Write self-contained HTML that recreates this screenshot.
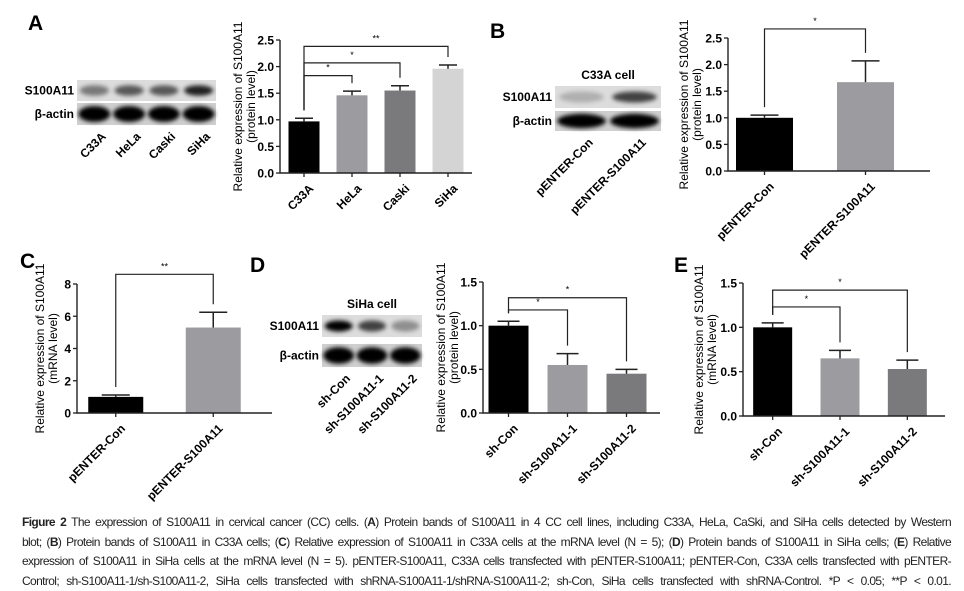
<!DOCTYPE html>
<html><head><meta charset="utf-8"><style>
html,body{margin:0;padding:0;background:#fff;width:964px;height:590px;overflow:hidden}
svg{display:block;font-family:"Liberation Sans",Arial,sans-serif}
.cap{position:absolute;left:22px;top:513px;width:929px;font-family:"Liberation Sans",sans-serif;font-size:12px;line-height:19.6px;letter-spacing:-0.62px;color:#222}
.cap div{text-align:justify;text-align-last:justify;white-space:nowrap;overflow:visible}
</style></head><body>
<svg id="fig" width="964" height="510" viewBox="0 0 964 510">
<defs><filter id="bl" x="-20%" y="-50%" width="140%" height="200%"><feGaussianBlur stdDeviation="2.2"/></filter></defs>
<g font-weight="bold" font-size="21" fill="#000">
<text x="28" y="30">A</text>
<text x="490" y="38">B</text>
<text x="20" y="268">C</text>
<text x="250" y="272">D</text>
<text x="674" y="272">E</text>
</g>
<g id="blots"></g>
<g id="charts"></g>
</svg>
<div class="cap">
<div><b>Figure 2</b> The expression of S100A11 in cervical cancer (CC) cells. (<b>A</b>) Protein bands of S100A11 in 4 CC cell lines, including C33A, HeLa, CaSki, and SiHa cells detected by Western</div>
<div>blot; (<b>B</b>) Protein bands of S100A11 in C33A cells; (<b>C</b>) Relative expression of S100A11 in C33A cells at the mRNA level (N = 5); (<b>D</b>) Protein bands of S100A11 in SiHa cells; (<b>E</b>) Relative</div>
<div>expression of S100A11 in SiHa cells at the mRNA level (N = 5). pENTER-S100A11, C33A cells transfected with pENTER-S100A11; pENTER-Con, C33A cells transfected with pENTER-</div>
<div>Control; sh-S100A11-1/sh-S100A11-2, SiHa cells transfected with shRNA-S100A11-1/shRNA-S100A11-2; sh-Con, SiHa cells transfected with shRNA-Control. *P &lt; 0.05; **P &lt; 0.01.</div>
</div>
<script>
// Panel A data
const catsA = ["C33A","HeLa","Caski","SiHa"];
const valsA = [0.97,1.46,1.55,1.96];
const errA = [0.06,0.08,0.09,0.07];
const ticksA = [0,0.5,1.0,1.5,2.0,2.5];
// Panel B data
const catsB = ["pENTER-Con","pENTER-S100A11"];
const valsB = [1.0,1.67];
const errB = [0.05,0.40];
const ticksB = [0,0.5,1.0,1.5,2.0,2.5];
// Panel C data
const catsC = ["pENTER-Con","pENTER-S100A11"];
const valsC = [1.0,5.3];
const errC = [0.12,0.95];
const ticksC = [0,2,4,6,8];
// Panel D data
const catsD = ["sh-Con","sh-S100A11-1","sh-S100A11-2"];
const valsD = [1.0,0.55,0.45];
const errD = [0.05,0.13,0.05];
const ticksD = [0,0.5,1.0,1.5];
// Panel E data
const catsE = ["sh-Con","sh-S100A11-1","sh-S100A11-2"];
const valsE = [1.0,0.65,0.53];
const errE = [0.05,0.09,0.10];
const ticksE = [0,0.5,1.0,1.5];

const NS="http://www.w3.org/2000/svg";
function mk(parent,tag,attrs,text){const e=document.createElementNS(NS,tag);for(const k in attrs)e.setAttribute(k,attrs[k]);if(text!==undefined)e.textContent=text;parent.appendChild(e);return e;}
const charts=document.getElementById('charts');

function chart(p){
  const g=mk(charts,'g',{});
  
  
  const ys=v=>p.y0-(v-p.tmin)/(p.tmax-p.tmin)*(p.y0-p.y1);
  const step=(p.xEnd-p.ax)/p.cats.length;
  const xc=i=>p.ax+step*(i+0.5)+p.shift;
  p.cats.forEach((c,i)=>{
    const top=ys(p.vals[i]);
    const b=mk(g,'rect',{x:xc(i)-p.bw/2,y:top,width:p.bw,height:p.y0-top,fill:p.colors[i]});
    
    
    const et=ys(p.vals[i]+p.errs[i]);
    const eb=mk(g,'path',{d:`M${xc(i)} ${top}V${et}M${xc(i)-p.cap} ${et}H${xc(i)+p.cap}`,stroke:'#222','stroke-width':1.5,fill:'none'});
    
    
    mk(g,'line',{x1:xc(i),x2:xc(i),y1:p.y0,y2:p.y0+4,stroke:'#222','stroke-width':1.3});
    const lx=xc(i)+4, ly=p.y0+10;
    const t=mk(g,'text',{x:lx,y:ly,transform:`rotate(-45 ${lx} ${ly})`,'text-anchor':'end','font-size':p.fs,'font-weight':'bold','dominant-baseline':'hanging'},c);
    
    
  });
  const ax=mk(g,'path',{d:`M${p.ax} ${ys(p.ticks[p.ticks.length-1])}V${p.y0}H${p.xEnd}`,stroke:'#222','stroke-width':1.4,fill:'none'});
  
  
  p.ticks.forEach(v=>{
    mk(g,'line',{x1:p.ax-4,x2:p.ax,y1:ys(v),y2:ys(v),stroke:'#222','stroke-width':1.3});
    const t=mk(g,'text',{x:p.ax-6,y:ys(v)+4.5,'text-anchor':'end','font-size':p.fs,'font-weight':'bold'},p.fmt(v));
    
    
  });
  const ty=(p.y0+p.y1)/2;
  const t1=mk(g,'text',{x:p.tx,y:ty,transform:`rotate(-90 ${p.tx} ${ty})`,'text-anchor':'middle','font-size':p.fs},'Relative expression of S100A11');
  
  
  const t2=mk(g,'text',{x:p.tx+13,y:ty,transform:`rotate(-90 ${p.tx+13} ${ty})`,'text-anchor':'middle','font-size':p.fs},p.sub);
  
  
  p.br.forEach(b=>{
    const [i,j,lvl,lab]=b;
    const yb=ys(lvl);
    const l=mk(g,'path',{d:`M${xc(i)} ${ys(p.vals[i]+p.errs[i])-8}V${yb}H${xc(j)}V${ys(p.vals[j]+p.errs[j])-8}`,stroke:'#222','stroke-width':1.2,fill:'none'});
    
    
    const s=mk(g,'text',{x:(xc(i)+xc(j))/2,y:yb-5,'text-anchor':'middle','font-size':9},lab);
    
    
  });
}
const f1=v=>v.toFixed(1), f0=v=>String(v);
chart({id:'a',cats:catsA,vals:valsA,errs:errA,ticks:ticksA,tmin:0,tmax:2.5,fmt:f1,ax:280,xEnd:472,y0:173,y1:40,bw:31,cap:9,shift:0,colors:['#000','#9c9ca0','#7a7a7c','#d4d4d4'],fs:12,tx:242,sub:'(protein level)',br:[[0,1,1.83,'*'],[0,2,2.07,'*'],[0,3,2.38,'**']]});
chart({id:'b',cats:catsB,vals:valsB,errs:errB,ticks:ticksB,tmin:0,tmax:2.5,fmt:f1,ax:728,xEnd:930,y0:171,y1:38,bw:57,cap:14,shift:-14,colors:['#000','#9c9ca0'],fs:12,tx:688,sub:'(protein level)',br:[[0,1,2.67,'*']]});
chart({id:'c',cats:catsC,vals:valsC,errs:errC,ticks:ticksC,tmin:0,tmax:8,fmt:f0,ax:77,xEnd:272,y0:413,y1:284,bw:55,cap:14,shift:-10,colors:['#000','#9c9ca0'],fs:12,tx:44,sub:'(mRNA level)',br:[[0,1,8.6,'**']]});
chart({id:'d',cats:catsD,vals:valsD,errs:errD,ticks:ticksD,tmin:0,tmax:1.5,fmt:f1,ax:483,xEnd:660,y0:413,y1:282,bw:40,cap:11,shift:-4,colors:['#000','#9c9ca0','#7a7a7c'],fs:12,tx:445,sub:'(protein level)',br:[[0,1,1.18,'*'],[0,2,1.32,'*']]});
chart({id:'e',cats:catsE,vals:valsE,errs:errE,ticks:ticksE,tmin:0,tmax:1.5,fmt:f1,ax:743,xEnd:945,y0:416,y1:283,bw:39,cap:11,shift:-4,colors:['#000','#9c9ca0','#7a7a7c'],fs:12,tx:703,sub:'(mRNA level)',br:[[0,1,1.23,'*'],[0,2,1.42,'*']]});

const blots=document.getElementById('blots');
function blot(o){
  const g=mk(blots,'g',{});
  
  
  mk(g,'rect',{x:o.x,y:o.y1,width:o.w,height:o.h1,fill:'#dcdcdc'});
  mk(g,'rect',{x:o.x,y:o.y2,width:o.w,height:o.h2,fill:'#cfcfcf'});
  const lw=o.w/o.labels.length;
  o.labels.forEach((l,i)=>{
    const cx=o.x+lw*(i+0.5);
    mk(g,'ellipse',{cx:cx,cy:o.y1+o.h1/2,rx:lw*0.42,ry:o.h1*0.25,fill:'#000',opacity:o.s[i],filter:'url(#bl)'});
    mk(g,'ellipse',{cx:cx,cy:o.y2+o.h2/2,rx:lw*0.46,ry:o.h2*0.36,fill:'#000',filter:'url(#bl)'});
    const lx=cx+6, ly=o.y2+o.h2+6;
    const t=mk(g,'text',{x:lx,y:ly,transform:`rotate(-45 ${lx} ${ly})`,'text-anchor':'end','font-size':12,'font-weight':'bold','dominant-baseline':'hanging'},l);
    
    
  });
  const a=mk(g,'text',{x:o.x-3,y:o.y1+o.h1/2+4,'text-anchor':'end','font-size':12,'font-weight':'bold'},'S100A11');
  
  
  const b=mk(g,'text',{x:o.x-3,y:o.y2+o.h2/2+4,'text-anchor':'end','font-size':12,'font-weight':'bold'},'β-actin');
  
  
  if(o.title){const t=mk(g,'text',{x:o.x+o.w/2,y:o.y1-7,'text-anchor':'middle','font-size':12,'font-weight':'bold'},o.title);
    
    }
}
blot({id:'a',x:77,w:139,y1:80,h1:21,y2:103,h2:22,labels:['C33A','HeLa','Caski','SiHa'],s:[0.45,0.6,0.6,0.85]});
blot({id:'b',x:555,w:106,y1:86,h1:22,y2:111,h2:20,labels:['pENTER-Con','pENTER-S100A11'],s:[0.2,0.7],title:'C33A cell'});
blot({id:'d',x:322,w:100,y1:315,h1:22,y2:344,h2:23,labels:['sh-Con','sh-S100A11-1','sh-S100A11-2'],s:[1,0.7,0.35],title:'SiHa cell'});
</script>
</body></html>
